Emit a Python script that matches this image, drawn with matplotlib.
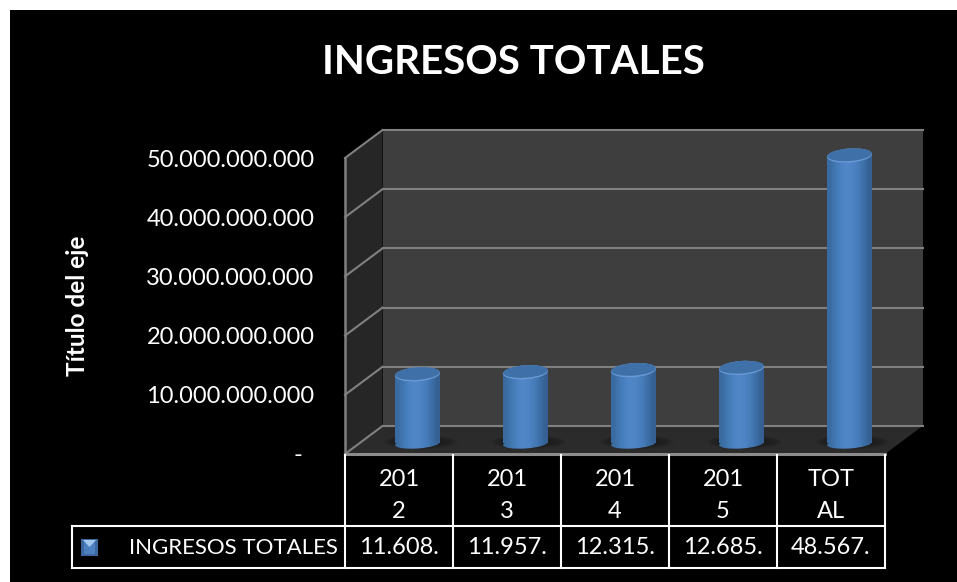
import numpy as np
import matplotlib
matplotlib.use("Agg")
import matplotlib.pyplot as plt
from matplotlib.patches import Ellipse, Polygon, Rectangle
from matplotlib.transforms import IdentityTransform

plt.rcParams['font.family'] = ['Lato', 'DejaVu Sans']

categories = ['2012', '2013', '2014', '2015', 'TOTAL']
ingresos = [11.608e9, 11.957e9, 12.315e9, 12.685e9, 48.567e9]
y_ticks = [0, 10e9, 20e9, 30e9, 40e9, 50e9]
y_labels = ['-  ', '10.000.000.000', '20.000.000.000', '30.000.000.000',
            '40.000.000.000', '50.000.000.000']
serie = 'INGRESOS TOTALES'

W, H = 957, 582
FRONT_L, FRONT_R, FRONT_B, FRONT_T = 345, 885, 454, 158
DX, DY = 37.5, 28
PX_Y = (FRONT_B - FRONT_T) / 50e9
PX_X = (FRONT_R - FRONT_L) / 5.0


def ypx(v, back=0):
    return FRONT_B - v * PX_Y - back * DY


fig = plt.figure(figsize=(W / 100, H / 100), dpi=100, facecolor='white')

# background, walls and table in pixel coordinates
bg = fig.add_axes([0, 0, 1, 1])
bg.set_xlim(0, W)
bg.set_ylim(H, 0)
bg.axis('off')
bg.add_patch(Rectangle((10, 10), W, H, color='black', lw=0))

x0, x1 = FRONT_L, FRONT_R
bg.add_patch(Polygon([(x0 + DX, ypx(0, 1)), (x1 + DX, ypx(0, 1)), (x1 + DX, ypx(50e9, 1)),
                      (x0 + DX, ypx(50e9, 1))], color='#3e3e3e', lw=0))
bg.add_patch(Polygon([(x0, ypx(0)), (x0 + DX, ypx(0, 1)), (x0 + DX, ypx(50e9, 1)),
                      (x0, ypx(50e9))], color='#262626', lw=0))
bg.add_patch(Polygon([(x0, ypx(0)), (x1, ypx(0)), (x1 + DX, ypx(0, 1)), (x0 + DX, ypx(0, 1))],
                     color='#2b2b2b', lw=0))
for t in y_ticks:
    bg.plot([x0 + DX, x1 + DX], [ypx(t, 1), ypx(t, 1)], color='#808080', lw=1.5)
    bg.plot([x0, x0 + DX], [ypx(t), ypx(t, 1)], color='#808080', lw=1.5)
bg.plot([x0, x0], [ypx(0), ypx(50e9)], color='#808080', lw=1.8)
bg.plot([x0, x1], [ypx(0), ypx(0)], color='#8c8c8c', lw=2.2)

# data table under the plot
ROW_1, ROW_2, ROW_3 = 455, 526, 568
TABLE_L = 72
for i in range(len(categories) + 1):
    xc = x0 + i * PX_X
    bg.plot([xc, xc], [ROW_1, ROW_3], color='white', lw=1.5)
bg.plot([TABLE_L, x1], [ROW_2, ROW_2], color='white', lw=1.5)
bg.plot([TABLE_L, x1], [ROW_3, ROW_3], color='white', lw=1.5)
bg.plot([TABLE_L, TABLE_L], [ROW_2, ROW_3], color='white', lw=1.5)

for i, (cat, val) in enumerate(zip(categories, ingresos)):
    xc = x0 + (i + 0.5) * PX_X
    bg.text(xc, 479, cat[:3], color='white', fontsize=17, ha='center', va='center')
    bg.text(xc, 512, cat[3:], color='white', fontsize=17, ha='center', va='center')
    bg.text(xc, 548, '%.3f.' % (val / 1e9), color='white', fontsize=17, ha='center', va='center')
bg.text(338, 548, serie, color='white', fontsize=16, ha='right', va='center')

# legend key
bg.add_patch(Rectangle((81, 539), 17, 17, color='#3a689f', lw=0))
bg.add_patch(Rectangle((84, 541), 11, 13, color='#4d80bf', lw=0))
bg.add_patch(Polygon([(83, 540), (96, 540), (89.5, 547)], color='#a5c8ee', lw=0))

# bars live in the front plane axes, shifted half way into the depth
ax = fig.add_axes([FRONT_L / W, 1 - FRONT_B / H, (FRONT_R - FRONT_L) / W, (FRONT_B - FRONT_T) / H])
ax.patch.set_alpha(0)
ax.set_xlim(-0.5, 4.5)
ax.set_ylim(0, 50e9)
for s in ax.spines.values():
    s.set_visible(False)
ax.set_xticks([])
ax.set_yticks(y_ticks)
ax.set_yticklabels(y_labels, color='white', fontsize=17)
ax.tick_params(axis='y', length=0, pad=22)
ax.set_ylabel('Título del eje', color='white', fontsize=17.5, fontweight='bold')
ax.yaxis.set_label_coords((89 - FRONT_L) / (FRONT_R - FRONT_L), (FRONT_B - 306) / (FRONT_B - FRONT_T))

shift_x = 18.5 / PX_X
lift = 11 / PX_Y
bar_w = 45 / PX_X
colors = np.array([[0.23, 0.42, 0.63], [0.26, 0.47, 0.70], [0.29, 0.51, 0.76], [0.32, 0.53, 0.78],
                   [0.31, 0.52, 0.77], [0.28, 0.49, 0.73], [0.24, 0.44, 0.66], [0.21, 0.38, 0.58]])
xs = np.arange(len(categories)) + shift_x
bars = ax.bar(xs, ingresos, width=bar_w, bottom=lift, color='none', clip_on=False)


def to_px(x, y):
    return ax.transData.transform((x, y))


fig.canvas.draw()
for x, v, bar in zip(xs, ingresos, bars):
    # soft shadow on the floor
    bx, by = to_px(x, lift)
    for k in range(6):
        ax.add_patch(Ellipse((bx + 3, by + 1), 74 - 5 * k, 14 - 1.5 * k, transform=IdentityTransform(),
                             color='#181818', alpha=0.16, lw=0, clip_on=False, zorder=1))
    # rounded foot, same shading as the body
    foot = Ellipse((bx, by - 0.5), 45, 10, angle=4, transform=IdentityTransform(), lw=0,
                   color='none', zorder=2)
    ax.add_patch(foot)
    im_foot = ax.imshow(colors[np.newaxis, :, :], extent=(x - bar_w / 2, x + bar_w / 2, lift - 10 / PX_Y, lift + 10 / PX_Y),
                        aspect='auto', interpolation='bilinear', zorder=2)
    im_foot.set_clip_path(foot)
    im = ax.imshow(colors[np.newaxis, :, :], extent=(x - bar_w / 2, x + bar_w / 2, lift, lift + v),
                   aspect='auto', interpolation='bilinear', zorder=3)
    im.set_clip_path(bar)
    # top cap
    tx, ty = to_px(x, lift + v)
    ax.add_patch(Ellipse((tx, ty), 45, 14, angle=4, transform=IdentityTransform(), lw=0,
                         color='#6a9ad6', clip_on=False, zorder=4))
    ax.add_patch(Ellipse((tx, ty + 0.7), 44.5, 12.5, angle=4, transform=IdentityTransform(), lw=0,
                         color='#3f70a8', clip_on=False, zorder=5))
ax.set_xlim(-0.5, 4.5)
ax.set_ylim(0, 50e9)

fig.text(513.5 / W, 1 - 63 / H, 'INGRESOS TOTALES', color='white', fontsize=29, fontweight='bold',
         ha='center', va='center')

fig.savefig('out.png', dpi=100, facecolor='white')
